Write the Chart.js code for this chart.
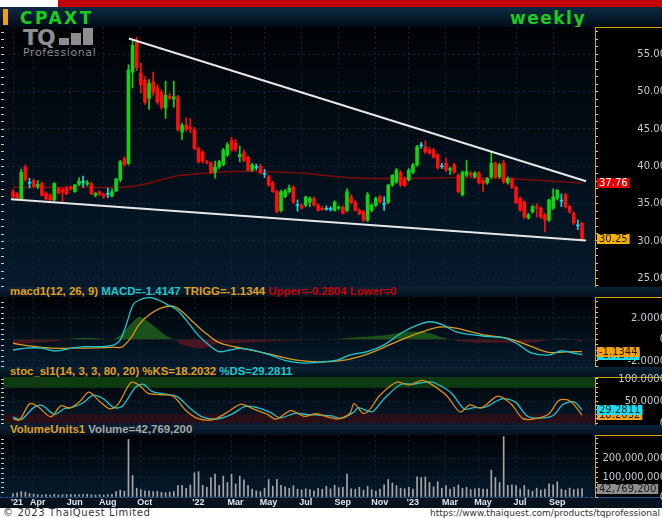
<!DOCTYPE html>
<html><head><meta charset="utf-8">
<script src="https://cdn.jsdelivr.net/npm/chart.js@4.4.0/dist/chart.umd.min.js"></script>
<style>
html,body{margin:0;padding:0;width:662px;height:518px;overflow:hidden;background:#fff;font-family:"Liberation Sans",Arial,sans-serif}
.abs{position:absolute}
.plot{background:linear-gradient(#000306,#061a2c)}
.axis{background:#000}
.title{left:0;width:662px;height:10px;background:linear-gradient(#0c2338,#05101c);font:bold 11.4px "Liberation Sans";line-height:9px;white-space:nowrap;padding-left:10px;box-sizing:border-box;z-index:2}
canvas{z-index:3}
</style></head><body>
<div class="abs" style="left:58px;top:0;width:604px;height:7px;background:#c40000"></div>
<div class="abs" style="left:0;top:7px;width:662px;height:20px;background:linear-gradient(#0d2b45,#020b16)">
  <div class="abs" style="left:3px;top:2px;width:5px;height:16px;background:#f0a010"></div>
  <div class="abs" style="left:20px;top:1px;font:bold 17px 'DejaVu Sans';color:#1ccc1c;letter-spacing:2.5px">CPAXT</div>
  <div class="abs" style="left:510px;top:1px;font:bold 17px 'DejaVu Sans';color:#1ccc1c;letter-spacing:1.5px">weekly</div>
</div>
<div class="abs plot" style="left:0;top:27px;width:595px;height:260px"></div>
<div class="abs axis" style="left:595px;top:27px;width:67px;height:260px;border-top:1px solid #d9a400;box-sizing:border-box"></div>
<div class="abs" style="left:23px;top:28px;color:#8e8e8e">
  <div style="font:bold 22px 'DejaVu Sans';letter-spacing:-1px;line-height:19px;white-space:nowrap">TQ<span style="display:inline-block;width:10px;height:7px;background:#8e8e8e;margin-left:4px"></span><span style="display:inline-block;width:10px;height:12px;background:#8e8e8e;margin-left:2px"></span><span style="display:inline-block;width:10px;height:17px;background:#8e8e8e;margin-left:2px"></span></div>
  <div style="font:11px 'DejaVu Sans';letter-spacing:0.6px;line-height:11px">Professional</div>
</div>
<canvas id="cPrice" class="abs" style="left:0;top:27px" width="666" height="260"></canvas>

<div class="abs title" style="top:287px"><span style="color:#e0a020">macd1(12, 26, 9) </span><span style="color:#22c8cc">MACD=-1.4147 </span><span style="color:#e0a020">TRIGG=-1.1344 </span><span style="color:#c80000">Upper=-0.2804 Lower=0</span></div>
<div class="abs plot" style="left:0;top:297px;width:595px;height:70px"></div>
<div class="abs axis" style="left:595px;top:297px;width:67px;height:70px;border-top:1px solid #d9a400;box-sizing:border-box"></div>
<canvas id="cMacd" class="abs" style="left:0;top:297px" width="666" height="70"></canvas>

<div class="abs title" style="top:367px"><span style="color:#e0a020">stoc_sl1(14, 3, 3, 80, 20) %KS=18.2032 </span><span style="color:#22c8cc">%DS=29.2811</span></div>
<div class="abs plot" style="left:0;top:377px;width:595px;height:48px"></div>
<div class="abs axis" style="left:595px;top:377px;width:67px;height:48px;border-top:1px solid #d9a400;box-sizing:border-box"></div>
<canvas id="cStoch" class="abs" style="left:0;top:371px" width="666" height="54"></canvas>

<div class="abs title" style="top:425px"><span style="color:#e0a020">VolumeUnits1 </span><span style="color:#a8a8a8">Volume=42,769,200</span></div>
<div class="abs plot" style="left:0;top:435px;width:595px;height:62px"></div>
<div class="abs axis" style="left:595px;top:435px;width:67px;height:62px;border-top:1px solid #d9a400;box-sizing:border-box"></div>
<div class="abs" style="left:0;top:497px;width:662px;height:11px;background:#07121f;border-top:1px solid #2355a0;box-sizing:border-box"></div>
<canvas id="cVol" class="abs" style="left:0;top:435px" width="666" height="73"></canvas>

<div class="abs" style="left:3px;top:507px;font:10px 'DejaVu Sans';color:#333;letter-spacing:0.6px">© 2023 ThaiQuest Limited</div>
<div class="abs" style="right:2px;top:508px;font:9px 'DejaVu Sans';color:#333">https://www.thaiquest.com/products/tqprofessional</div>

<script>
// x axis month ticks (week index) and their labels
const tickIdx = [0, 5, 14, 22, 31, 44, 53, 61, 70, 79, 88, 96, 105, 113, 122, 131];
const tickLabels = ["'21", "Apr", "Jun", "Aug", "Oct", "'22", "Mar", "May", "Jul", "Sep", "Nov", "'23", "Mar", "May", "Jul", "Sep"];

// weekly candles [open, high, low, close]
const candles = [
  [36.6,36.9,35.7,35.9],[36.3,36.5,35.6,35.7],[35.6,39.6,35.4,39.2],[39.9,40.2,38.0,38.2],[37.8,38.4,37.1,37.8],
  [38.1,38.3,37.2,37.3],[37.3,38.1,37.0,37.6],[37.7,37.9,36.0,36.1],[36.4,36.6,35.5,35.6],[36.1,36.3,35.4,35.5],
  [35.5,37.8,35.3,37.7],[37.0,37.2,36.3,36.4],[36.9,37.1,35.3,36.5],[37.0,37.3,36.2,36.3],[37.2,37.4,36.8,37.0],
  [36.6,37.6,36.5,37.5],[37.6,38.5,37.4,38.0],[37.9,38.7,37.2,37.9],[37.6,38.1,37.4,37.8],[37.7,37.9,36.2,36.3],
  [36.1,36.5,35.9,36.4],[36.6,36.7,36.1,36.2],[36.2,36.4,35.7,35.9],[36.3,37.1,35.8,36.3],[36.0,37.0,35.9,36.6],
  [36.7,38.4,36.6,38.3],[38.2,40.8,37.9,40.6],[41.0,41.3,40.0,40.2],[40.4,53.6,40.2,52.9],[52.6,56.8,50.5,56.2],
  [56.6,57.3,52.8,53.2],[52.5,53.8,49.8,50.9],[51.5,52.0,48.3,48.6],[49.1,51.6,47.6,51.1],[51.3,52.6,49.5,49.9],
  [50.5,50.9,48.3,48.6],[49.9,50.2,47.6,47.9],[47.8,51.4,46.4,49.5],[49.4,49.8,48.9,49.1],[49.0,51.4,47.9,49.3],
  [49.3,49.5,44.7,44.9],[44.6,45.8,43.6,45.5],[45.5,46.5,44.7,44.9],[45.2,46.4,44.5,45.0],[44.9,45.2,42.2,42.4],
  [42.4,42.6,40.4,40.6],[41.9,42.1,40.4,40.7],[40.6,40.8,40.3,40.5],[40.4,40.6,39.0,39.2],[39.2,40.7,38.4,39.9],
  [39.9,40.8,39.7,40.6],[40.2,42.4,40.1,42.2],[41.5,43.2,41.3,42.9],[43.5,43.9,42.0,42.2],[43.1,43.6,42.0,42.3],
  [41.3,42.7,40.6,41.6],[41.8,42.2,40.6,40.8],[41.2,41.4,39.3,39.5],[39.5,40.4,39.3,40.2],[39.9,40.3,39.5,39.9],
  [40.0,40.3,39.0,39.1],[39.0,39.6,38.5,39.0],[38.6,38.8,37.3,37.5],[37.8,38.0,36.5,36.6],[36.6,36.8,33.8,33.9],
  [34.1,36.8,33.9,36.6],[36.0,36.9,35.8,36.7],[36.6,37.5,36.4,37.1],[37.2,37.4,35.0,35.2],[34.8,35.5,34.0,34.8],
  [34.8,35.0,34.3,34.4],[34.8,36.0,34.6,35.9],[35.2,35.9,34.6,35.7],[35.7,35.9,34.7,34.8],[34.8,35.0,34.0,34.1],
  [34.4,34.6,34.1,34.2],[34.3,34.7,34.1,34.3],[34.3,34.6,34.0,34.3],[34.1,35.4,34.0,35.2],[34.4,34.7,34.2,34.5],
  [34.5,34.7,33.6,33.7],[34.1,37.0,33.9,36.6],[35.9,36.2,35.0,35.1],[35.2,35.4,34.0,34.1],[34.1,34.3,33.5,33.6],
  [33.9,34.1,32.6,32.8],[32.8,36.5,32.6,36.2],[34.1,35.0,33.9,34.8],[34.8,35.9,34.6,35.7],[35.9,36.1,35.1,35.2],
  [35.0,35.9,34.1,35.0],[35.2,37.6,35.0,37.5],[37.5,38.9,37.3,38.8],[37.9,39.7,37.7,39.5],[39.2,39.4,37.3,37.5],
  [38.4,38.6,37.3,37.4],[38.2,39.7,38.0,39.5],[39.2,40.4,39.0,40.2],[40.2,42.8,40.0,42.6],[42.8,43.2,42.4,42.8],
  [42.6,43.4,41.7,41.9],[42.2,42.6,41.6,41.8],[42.2,42.4,41.1,41.2],[41.5,41.7,39.6,39.8],[40.0,40.4,39.7,40.0],
  [40.4,41.1,39.3,39.5],[39.5,39.9,38.9,39.7],[40.2,40.4,39.0,39.2],[38.8,39.0,36.4,36.6],[36.2,39.4,36.0,39.2],
  [38.8,40.8,38.6,39.3],[39.1,39.3,38.6,38.8],[38.6,39.3,38.4,39.1],[39.1,39.3,37.6,37.8],[38.1,38.3,36.6,37.7],
  [37.8,38.5,37.6,38.4],[38.6,41.9,38.4,40.4],[40.4,40.6,38.4,38.6],[38.6,40.4,38.4,40.2],[40.4,40.8,37.7,37.9],
  [37.8,38.6,37.6,38.4],[38.3,38.5,37.0,37.2],[37.2,37.4,35.0,35.1],[35.7,35.9,34.0,34.1],[35.2,35.4,33.0,33.2],
  [33.1,33.7,32.9,33.5],[33.9,34.8,33.7,34.6],[34.6,35.0,33.2,34.4],[34.4,34.6,33.0,33.2],[33.5,33.7,31.2,32.8],
  [32.8,35.6,32.6,35.5],[34.4,37.0,34.2,35.9],[35.7,36.9,35.5,36.8],[35.4,36.3,34.6,35.4],[36.2,36.4,34.4,34.6],
  [34.6,34.8,33.7,33.9],[33.7,33.9,32.2,32.4],[32.1,32.8,31.5,32.1],[32.4,32.5,30.0,30.25]
];

// moving average and trend lines, [week index, price]
const maLine = [[0,37.2],[26.7,37.2],[30.8,37.5],[37.4,38.4],[40.5,38.8],[53.4,39.3],[60,39.3],[69.7,39.1],[77,38.7],[84.2,38.4],[98.8,38.4],[109,38.5],[122,38.3],[138,37.76]];
const upperTrend = [[28.1,57.1],[139,38.0]];
const lowerTrend = [[-0.5,35.6],[139,30.05]];

// MACD panel, [week index, value]
const macdLine = [[0,-0.98],[2.9,-0.8],[7,-0.8],[10.2,-1.07],[14.3,-0.8],[17.2,-0.67],[21.3,-0.67],[24.5,-0.5],[26,-0.05],[27.7,1.65],[29.1,3.2],[30.6,3.67],[33.2,3.9],[35.2,3.67],[37.3,3.27],[39.8,2.74],[42,1.8],[44.9,0.4],[48,-0.67],[50,-1.13],[52.6,-0.98],[55.1,-0.82],[58.2,-0.98],[62.3,-1.44],[66.5,-2.0],[70.6,-2.2],[74.7,-2.1],[78.8,-1.9],[81.7,-1.44],[85.9,-1.13],[90,-0.5],[94.1,0.58],[98.2,1.35],[101.1,1.65],[104.3,1.35],[107.4,0.73],[111.6,0.42],[115.5,0.26],[119.6,0.11],[122.7,-0.5],[125.9,-1.28],[130,-1.44],[132.9,-1.07],[136.1,-1.28],[138,-1.41]];
const trigLine = [[0,-0.35],[3,-0.55],[9,-0.8],[17,-0.8],[24.5,-0.72],[26.4,-0.7],[28.5,0.1],[30.6,1.4],[33,2.3],[35.7,2.9],[38.8,3.1],[41,2.6],[44,1.5],[47,0.5],[50,-0.3],[54,-0.7],[60.4,-1.2],[68.4,-1.9],[74.7,-2.1],[80.8,-1.9],[86.8,-1.25],[93.1,-0.2],[99.2,0.7],[103.3,1.15],[107.4,1.05],[114.5,0.4],[119.6,0.15],[124.7,-0.5],[130,-1.2],[134,-1.15],[138,-1.13]];
const macdHist = [[0,-0.45],[4,-0.35],[10,-0.2],[13,0],[15,0.12],[19,0.15],[22,0.05],[24,0],[26,0.4],[28,1.2],[30,2.0],[31,2.1],[33,1.6],[35,1.0],[37,0.4],[39,0],[41,-0.5],[44,-0.75],[46,-0.85],[48,-0.6],[50,-0.3],[53,-0.35],[57,-0.3],[62,-0.2],[67,-0.1],[72,-0.02],[76,0],[79,0.05],[83,0.2],[87,0.3],[91,0.45],[95,0.7],[99,0.75],[101,0.6],[104,0.2],[106,0],[108,-0.15],[112,-0.3],[118,-0.3],[124,-0.35],[128,-0.2],[130,0],[132,0.1],[134,0.08],[136,0],[138,-0.28]];

// stochastic panel, [week index, value]
const stochK = [[0,10],[1.5,6.5],[4.1,44],[6.1,37],[9.2,14],[11.6,39],[13.8,34],[16.3,50],[18.4,70],[20.9,50],[23.5,32],[25.5,43],[28.6,92],[30.6,86],[32.7,68],[35.7,64.5],[38.8,61],[42,28],[44.9,10],[48.5,8],[52.1,25],[55.3,43],[58.2,32],[61.4,21],[63.8,9],[67.4,28],[70.6,15],[73.5,21],[76.2,14],[78.8,9],[81.7,22],[82.7,44],[84.9,22],[86.3,28],[89,63],[93.1,93],[96,86],[99.2,97],[101.1,90],[105.3,61],[108.4,25],[110.8,41],[113.5,34],[117.6,61],[120.8,43],[123.7,10],[126.8,10],[130,21],[132.4,51.5],[135.1,50],[138,18.2]];
const stochD = [[0,14],[2,8],[5,35],[7,40],[10,20],[12.5,33],[14.5,36],[17,46],[19.4,63],[21.9,55],[24.5,35],[26.5,38],[29.6,80],[31.6,88],[33.7,72],[36.7,66],[39.8,60],[43,33],[45.9,14],[49.5,9],[53.1,20],[56.3,38],[59.2,35],[62.4,24],[64.8,12],[68.4,22],[71.6,19],[74.5,18],[77.2,16],[79.8,11],[82.7,25],[83.7,35],[85.9,28],[87.3,26],[90,55],[94.1,88],[97,88],[100.2,93],[102.1,92],[106.3,68],[109.4,32],[111.8,35],[114.5,36],[118.6,55],[121.8,48],[124.7,16],[127.8,11],[131,17],[133.4,42],[136.1,48],[138,29.3]];

// weekly volume, millions of shares
const volumeM = [18,22,28,25,18,15,12,10,12,10, 14,10,12,12,14,12,12,12,14,12, 10,12,10,12,14,28,35,30,295,110,
  45,38,32,30,28,30,24,22,25,28, 58,60,45,62,124,130,60,50,100,117, 60,107,75,117,67,107,88,60,40,32,
  28,45,90,55,90,60,52,45,58,40, 36,42,38,32,45,40,55,42,60,48, 50,117,42,40,50,35,55,38,30,40,
  62,90,72,59,45,42,50,40,103,100, 103,75,52,78,45,59,40,50,62,45, 50,38,42,45,40,40,138,100,75,310,
  60,62,58,40,59,38,30,45,36,40, 67,62,78,40,35,45,38,42,42.77];

// value-axis ticks: every tick gets a mark, only the labelled ones get text and a grid line
const priceTicks = [], priceLabels = [25, 30, 35, 40, 45, 50, 55];
for (let v = 24; v <= 58; v++) priceTicks.push(v);
const macdTicks = [-2.5, -2, -1.5, -1, -0.5, 0, 0.5, 1, 1.5, 2, 2.5, 3, 3.5], macdLabels = [-2, 0, 2];
const stochTicks = [0, 10, 20, 30, 40, 50, 60, 70, 80, 90, 100], stochLabels = [0, 50, 100];
const volTicks = [0, 25e6, 50e6, 75e6, 1e8, 125e6, 150e6, 175e6, 2e8, 225e6, 250e6, 275e6, 3e8], volLabels = [0, 1e8, 2e8];

const pts = a => a.map(([x, y]) => ({x, y}));
const candleColor = c => c[3] > c[0] ? '#12d412' : (c[3] < c[0] ? '#ff0e0e' : '#18d8e8');
const AXIS_FONT = {family: 'DejaVu Sans', size: 10};

function xAxis(showLabels) {
  return {
    type: 'linear', min: -2.43, max: 141.15, offset: false,
    afterBuildTicks: s => { s.ticks = tickIdx.map(v => ({value: v})); },
    afterFit: s => { s.height = showLabels ? 11 : 0; s.paddingLeft = 0; s.paddingRight = 0; },
    grid: {color: '#112438', drawTicks: false, offset: false},
    border: {display: false, dash: [2, 3]},
    ticks: {display: showLabels, autoSkip: false, maxRotation: 0, padding: 0, labelOffset: 4,
      color: '#e4e6ee', font: {family: 'Liberation Sans', weight: 'bold', size: 9},
      callback: v => tickLabels[tickIdx.indexOf(v)]}
  };
}
// right value axis; labels are right-aligned near the window edge
function yAxis(min, max, ticks, labels, pad, fmt) {
  return {
    position: 'right', min, max,
    afterBuildTicks: s => { s.ticks = ticks.map(v => ({value: v})); },
    afterFit: s => { s.width = 71; s.paddingTop = 0; s.paddingBottom = 0; },
    grid: {color: c => labels.includes(c.tick.value) ? '#12283c' : 'rgba(0,0,0,0)', tickColor: '#d0d0d0', tickLength: 3},
    border: {color: '#d9a400', width: 1, dash: [2, 3]},
    ticks: {autoSkip: false, crossAlign: 'far', padding: pad, color: '#c4c8d0', font: AXIS_FONT,
      callback: v => labels.includes(v) ? fmt(v) : ''}
  };
}

const valueBoxes = {
  id: 'valueBoxes',
  afterDraw(chart, args, opts) {
    const ctx = chart.ctx, ys = chart.scales.y, a = chart.chartArea, x0 = a.right + 2;
    ctx.save();
    // small marks on the left edge of the panel
    ctx.fillStyle = '#c8c8c8';
    ys.ticks.forEach(t => { const p = Math.round(ys.getPixelForValue(t.value)); if (p > a.top && p < a.bottom) ctx.fillRect(1, p, 3, 1); });
    ctx.font = '10px "DejaVu Sans"';
    ctx.textBaseline = 'middle';
    (opts.items || []).forEach(b => {
      const py = Math.round(ys.getPixelForValue(b.value));
      const w = ctx.measureText(b.text).width + 4;
      ctx.fillStyle = b.bg; ctx.fillRect(x0, py - 5, w, 10);
      ctx.fillStyle = b.fg; ctx.fillText(b.text, x0 + 2, py + 0.5);
    });
    ctx.restore();
  }
};
const bands = {
  id: 'bands',
  beforeDatasetsDraw(chart, args, opts) {
    const ctx = chart.ctx, ys = chart.scales.y, a = chart.chartArea;
    (opts.items || []).forEach(b => {
      const y1 = ys.getPixelForValue(b.to), y2 = ys.getPixelForValue(b.from);
      ctx.fillStyle = b.color; ctx.fillRect(a.left, y1, a.right - a.left, y2 - y1);
    });
  }
};

const base = {
  responsive: false, animation: false, events: [],
  layout: {padding: {left: 3, right: 0, top: 0, bottom: 0}},
};

new Chart(document.getElementById('cPrice'), {
  type: 'bar',
  data: {datasets: [
    {type: 'line', data: pts(upperTrend), borderColor: '#e6e6e6', borderWidth: 2, pointRadius: 0, order: 0},
    {type: 'line', data: pts(lowerTrend), borderColor: '#e6e6e6', borderWidth: 2, pointRadius: 0, order: 0},
    {data: candles.map((c, i) => ({x: i, y: c[0] === c[3] ? [c[0] - 0.06, c[0] + 0.06] : [c[0], c[3]]})),
      backgroundColor: candles.map(candleColor), barThickness: 3, grouped: false, order: 1},
    {data: candles.map((c, i) => ({x: i, y: [c[2], c[1]]})),
      backgroundColor: candles.map(candleColor), barThickness: 1, grouped: false, order: 2},
    {type: 'line', data: pts(maLine), borderColor: '#7c0c0c', borderWidth: 1.5, pointRadius: 0, tension: 0.3, order: 3}
  ]},
  options: {...base,
    scales: {x: xAxis(false), y: yAxis(23.84, 58.65, priceTicks, priceLabels, 37, v => v.toFixed(2))},
    plugins: {legend: {display: false}, tooltip: {enabled: false},
      valueBoxes: {items: [
        {value: 37.76, text: '37.76', bg: '#e40000', fg: '#ffffff'},
        {value: 30.25, text: '30.25', bg: '#f2b200', fg: '#2a1500'}]}}
  },
  plugins: [valueBoxes]
});

new Chart(document.getElementById('cMacd'), {
  type: 'line',
  data: {datasets: [
    {data: pts(macdLine), borderColor: '#1ec6cc', borderWidth: 1.3, pointRadius: 0, tension: 0.35, order: 0},
    {data: pts(trigLine), borderColor: '#dc9a1c', borderWidth: 1.3, pointRadius: 0, tension: 0.35, order: 1},
    {data: pts(macdHist), borderWidth: 0, pointRadius: 0, tension: 0.2, order: 2,
      fill: {target: 'origin', above: '#1b521a', below: '#4a1420'}}
  ]},
  options: {...base,
    scales: {x: xAxis(false), y: yAxis(-2.56, 3.95, macdTicks, macdLabels, 27, v => v === 0 ? '0' : v.toFixed(4))},
    plugins: {legend: {display: false}, tooltip: {enabled: false},
      valueBoxes: {items: [
        {value: -1.4147, text: '-1.4147', bg: '#20dceb', fg: '#002a30'},
        {value: -1.1344, text: '-1.1344', bg: '#f0a318', fg: '#2a1500'}]}}
  },
  plugins: [valueBoxes]
});

new Chart(document.getElementById('cStoch'), {
  type: 'line',
  data: {datasets: [
    {data: pts(stochD), borderColor: '#1cc4d0', borderWidth: 1.3, pointRadius: 0, tension: 0.3, order: 1},
    {data: pts(stochK), borderColor: '#e08a12', borderWidth: 1.3, pointRadius: 0, tension: 0.3, order: 0}
  ]},
  options: {...base, layout: {padding: {left: 3, right: 0, top: 6, bottom: 0}},
    scales: {x: xAxis(false), y: yAxis(-4.5, 104.5, stochTicks, stochLabels, 15, v => v === 0 ? '0' : v.toFixed(4))},
    plugins: {legend: {display: false}, tooltip: {enabled: false},
      bands: {items: [{from: 80, to: 104.5, color: '#0e3a10'}, {from: 0, to: 20, color: '#2a0f17'}]},
      valueBoxes: {items: [
        {value: 18.2032, text: '18.2032', bg: '#f0a318', fg: '#2a1500'},
        {value: 29.2811, text: '29.2811', bg: '#20dceb', fg: '#002a30'}]}}
  },
  plugins: [bands, valueBoxes]
});

new Chart(document.getElementById('cVol'), {
  type: 'bar',
  data: {datasets: [
    {data: volumeM.map((v, i) => ({x: i, y: v * 1e6})), backgroundColor: '#a6a6a6', barThickness: 1}
  ]},
  options: {...base,
    scales: {x: xAxis(true), y: yAxis(0, 318e6, volTicks, volLabels, 1, v => v.toLocaleString('en-US'))},
    plugins: {legend: {display: false}, tooltip: {enabled: false},
      valueBoxes: {items: [{value: 42769200, text: '42,769,200', bg: '#8e8e8e', fg: '#1a1a1a'}]}}
  },
  plugins: [valueBoxes]
});
</script>
</body></html>
